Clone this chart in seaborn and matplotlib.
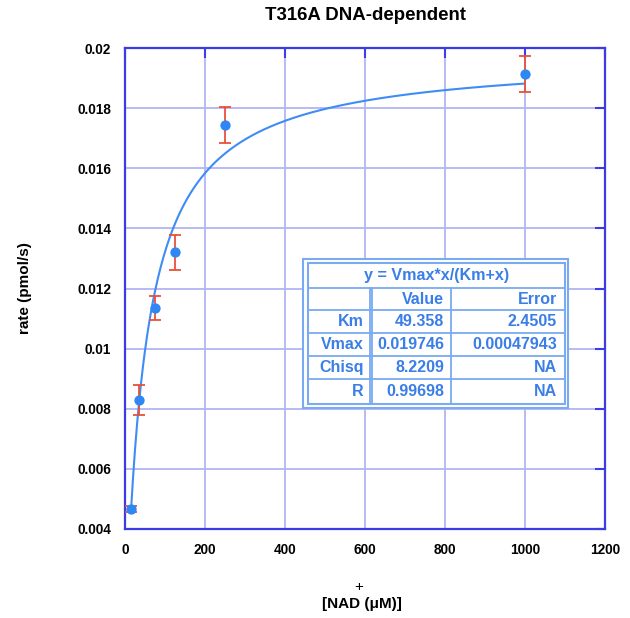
import numpy as np
import pandas as pd
import matplotlib
matplotlib.use("Agg")
import matplotlib.pyplot as plt
import seaborn as sns
from matplotlib.lines import Line2D
from matplotlib.patches import Rectangle

# ---- data ----
nad_conc = [15, 36, 75, 125, 250, 1000]
rate = [0.00465, 0.0083, 0.01135, 0.0132, 0.01743, 0.01912]
rate_err = [0.0001, 0.0005, 0.0004, 0.00057, 0.0006, 0.0006]
vmax = 0.019746
km = 49.358
x_ticks = [0, 200, 400, 600, 800, 1000, 1200]
y_ticks = [0.004, 0.006, 0.008, 0.01, 0.012, 0.014, 0.016, 0.018, 0.02]
y_tick_labels = ["0.004", "0.006", "0.008", "0.01", "0.012", "0.014", "0.016", "0.018", "0.02"]
table_title = "y = Vmax*x/(Km+x)"
table_header = ["", "Value", "Error"]
table_rows = [["Km", "49.358", "2.4505"],
              ["Vmax", "0.019746", "0.00047943"],
              ["Chisq", "8.2209", "NA"],
              ["R", "0.99698", "NA"]]

sns.set_theme(style="white")
plt.rcParams['font.family'] = ['Liberation Sans', 'DejaVu Sans']
plt.rcParams['font.weight'] = 'bold'
plt.rcParams['text.color'] = 'black'
plt.rcParams['xtick.color'] = 'black'
plt.rcParams['ytick.color'] = 'black'

W, H = 630, 618
fig = plt.figure(figsize=(W / 100, H / 100), dpi=100)
ax = fig.add_axes([125 / W, 1 - 529 / H, (605 - 125) / W, (529 - 48) / H])

frame_col = "#3c3ce6"
grid_col = "#b4b4f2"
pt_col = "#2f86f5"
curve_col = "#3f8cf5"
err_col = "#e8503c"

ax.set_xlim(0, 1200)
ax.set_ylim(0.004, 0.02)
ax.set_xticks(x_ticks)
ax.set_yticks(y_ticks)
ax.set_yticklabels(y_tick_labels)
ax.grid(True, color=grid_col, linewidth=1.3)
ax.set_axisbelow(True)
for s in ax.spines.values():
    s.set_color(frame_col)
    s.set_linewidth(1.6)
ax.tick_params(axis="both", direction="in", length=7, width=1.5, color=frame_col,
               top=True, right=True, labelsize=9.8, pad=10, labelcolor="black")
for lab in ax.get_xticklabels() + ax.get_yticklabels():
    lab.set_fontweight("bold")

# fit curve
xc = np.linspace(min(nad_conc), max(nad_conc), 400)
curve = pd.DataFrame({"x": xc, "y": vmax * xc / (km + xc)})
sns.lineplot(data=curve, x="x", y="y", ax=ax, color=curve_col, linewidth=1.5, zorder=3)

pts = pd.DataFrame({"x": nad_conc, "y": rate})
ax.errorbar(nad_conc, rate, yerr=rate_err, fmt="none", ecolor=err_col,
            elinewidth=1.3, capsize=4, capthick=1.3, zorder=4)
sns.scatterplot(data=pts, x="x", y="y", ax=ax, color=pt_col, s=55, edgecolor=pt_col,
                linewidth=0, zorder=5)

ax.set_xlabel("")
ax.set_ylabel("")

# titles / labels
fig.text(365 / W, 1 - 16 / H, "T316A DNA-dependent", ha="center", va="center",
         fontsize=13.4, fontweight="bold", color="black")
fig.text(25 / W, 1 - 288 / H, "rate (pmol/s)", rotation=90, ha="center", va="center",
         fontsize=11, fontweight="bold", color="black")
fig.text(362 / W, 1 - 604 / H, "[NAD (\u03bcM)]", ha="center", va="center",
         fontsize=11, fontweight="bold", color="black")
fig.text(359 / W, 1 - 587 / H, "+", ha="center", va="center", fontsize=11,
         fontweight="normal", color="black")

# ---- table in pixel coordinates ----
def fx(x):
    return x / W

def fy(y):
    return 1 - y / H

tab_line = "#7aaaf2"
tab_text = "#3a7ee8"
fig.patches.append(Rectangle((fx(303), fy(408)), fx(568) - fx(303), fy(259) - fy(408),
                             transform=fig.transFigure, facecolor="white",
                             edgecolor=tab_line, linewidth=1.5, zorder=10))
fig.patches.append(Rectangle((fx(307.5), fy(403.5)), fx(564.5) - fx(307.5), fy(263) - fy(403.5),
                             transform=fig.transFigure, facecolor="none",
                             edgecolor=tab_line, linewidth=1.5, zorder=11))
row_y = [288, 310, 333, 356, 379, 403.5]

def hline(y, x0=307.5, x1=564.5):
    fig.lines.append(Line2D([fx(x0), fx(x1)], [fy(y), fy(y)], transform=fig.transFigure,
                            color=tab_line, linewidth=1.3, zorder=11))

def vline(x, y0=288, y1=403.5):
    fig.lines.append(Line2D([fx(x), fx(x)], [fy(y0), fy(y1)], transform=fig.transFigure,
                            color=tab_line, linewidth=1.3, zorder=11))

for y in row_y[:-1]:
    hline(y)
vline(370)
vline(372)
vline(451)

fig.text(fx(437), fy(275.5), table_title, ha="center", va="center", fontsize=11.6,
         fontweight="bold", color=tab_text, zorder=12)
col_right = [364, 444, 557]
all_rows = [table_header] + table_rows
for i, row in enumerate(all_rows):
    yc = (row_y[i] + row_y[i + 1]) / 2
    for j, txt in enumerate(row):
        if txt:
            fig.text(fx(col_right[j]), fy(yc), txt, ha="right", va="center", fontsize=11.5,
                     fontweight="bold", color=tab_text, zorder=12)

fig.savefig("out.png", dpi=100, facecolor="white")
